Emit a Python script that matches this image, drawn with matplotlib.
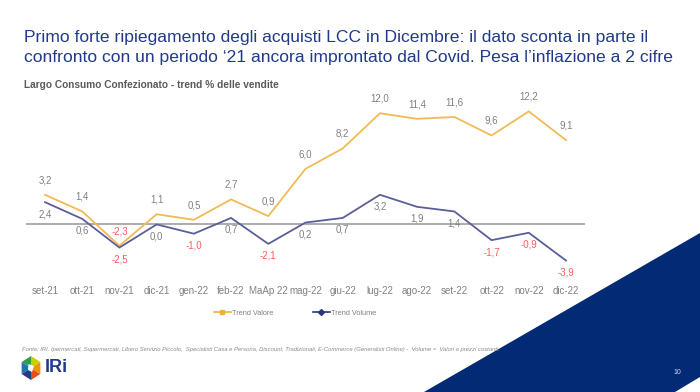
import matplotlib.pyplot as plt
import numpy as np
from matplotlib.patches import Polygon
from matplotlib.lines import Line2D

plt.rcParams['font.family'] = ['Liberation Sans', 'DejaVu Sans']

# Dati
mesi = ['set-21', 'ott-21', 'nov-21', 'dic-21', 'gen-22', 'feb-22', 'MaAp 22',
        'mag-22', 'giu-22', 'lug-22', 'ago-22', 'set-22', 'ott-22', 'nov-22', 'dic-22']
trend_valore = [3.2, 1.4, -2.3, 1.1, 0.5, 2.7, 0.9, 6.0, 8.2, 12.0, 11.4, 11.6, 9.6, 12.2, 9.1]
trend_volume = [2.4, 0.6, -2.5, 0.0, -1.0, 0.7, -2.1, 0.2, 0.7, 3.2, 1.9, 1.4, -1.7, -0.9, -3.9]

W, H = 700, 392
fig = plt.figure(figsize=(7, 3.92), dpi=100)


def fx(x):
    return x / W


def fy(y):
    return 1 - y / H


# Assi del grafico
ax = fig.add_axes([fx(26.4), fy(280), fx(584.6) - fx(26.4), fy(104) - fy(280)])
x = np.arange(len(mesi))
c_val = '#F2BA55'
c_vol = '#5B5F97'
ax.plot(x, trend_valore, color=c_val, lw=1.3)
ax.plot(x, trend_volume, color=c_vol, lw=1.3)
ax.axhline(0, color='#A6A6A6', lw=1.3, zorder=0)

ax.set_xlim(-0.5, len(mesi) - 0.5)
ax.set_ylim(-6, 13)
ax.set_xticks(x)
ax.set_xticklabels(mesi, fontsize=7, color='#808080')
ax.tick_params(axis='x', length=0, pad=4)
ax.set_yticks([])
for sp in ax.spines.values():
    sp.set_visible(False)


def fmt(v):
    return f'{v:.1f}'.replace('.', ',')


for i, v in enumerate(trend_valore):
    ax.annotate(fmt(v), (i, v), xytext=(0, 7), textcoords='offset points',
                ha='center', va='bottom', fontsize=7,
                color='#FF5B5B' if v < 0 else '#808080')
for i, v in enumerate(trend_volume):
    ax.annotate(fmt(v), (i, v), xytext=(0, -5), textcoords='offset points',
                ha='center', va='top', fontsize=7,
                color='#FF5B5B' if v < 0 else '#808080')

# Legenda
h1 = Line2D([], [], color='#F0B040', lw=1.2, marker='s', markersize=3)
h2 = Line2D([], [], color='#2A3578', lw=1.2, marker='D', markersize=3)
fig.legend([h1, h2], ['Trend Valore', 'Trend Volume'], loc='center',
           bbox_to_anchor=(fx(295), fy(313)), ncol=2, frameon=False,
           fontsize=5.3, labelcolor='#808080', handlelength=2.3,
           handletextpad=0.15, columnspacing=5.4)

# Titoli
titolo = ['Primo forte ripiegamento degli acquisti LCC in Dicembre: il dato sconta in parte il',
          'confronto con un periodo \u201821 ancora improntato dal Covid. Pesa l\u2019inflazione a 2 cifre']
for k, riga in enumerate(titolo):
    fig.text(fx(24), fy(41.7 + 20 * k), riga, fontsize=12.6, color='#1F3A8A',
             ha='left', va='baseline')
fig.text(fx(24), fy(85), 'Largo Consumo Confezionato - trend % delle vendite',
         fontsize=7.3, fontweight='bold', color='#5A5A5A', ha='left', va='center')

# Triangolo blu
fig.add_artist(Polygon([(fx(424), fy(392)), (fx(700), fy(233)), (fx(700), fy(392))],
                       closed=True, transform=fig.transFigure, color='#022A75', lw=0))
fig.add_artist(Polygon([(fx(675), fy(392)), (fx(700), fy(377)), (fx(700), fy(392))],
                       closed=True, transform=fig.transFigure, color='white', lw=0))
fig.text(fx(677), fy(372), '10', fontsize=5, color='#D8D8E8', ha='center', va='center', zorder=5)

# Fonte
fig.text(fx(22), fy(350), 'Fonte: IRI. Ipermercati, Supermercati, Libero Servizio Piccolo,  Specialisti Casa e Persona, '
         'Discount, Tradizionali, E-Commerce (Generalisti Online) -  Volume =  Valori a prezzi costanti.',
         fontsize=4.2, style='italic', color='#8A8A8A', ha='left', va='center', zorder=5)

# Logo IRi
cx, cy, r = 31, 368, 12
ang = np.deg2rad(90 + 60 * np.arange(7))
vx = cx + r * 0.9 * np.cos(ang)
vy = cy - r * np.sin(ang)
cols = ['#2E9E4F', '#1B75BB', '#1F3C88', '#E84E1B', '#F39200', '#C5D200']
for k in range(6):
    fig.add_artist(Polygon([(fx(cx), fy(cy)), (fx(vx[k]), fy(vy[k])), (fx(vx[k + 1]), fy(vy[k + 1]))],
                           closed=True, transform=fig.transFigure, color=cols[k], lw=0))
fig.add_artist(Polygon([(fx(cx - 2.5), fy(cy - 4)), (fx(cx + 3), fy(cy - 2)), (fx(cx + 1), fy(cy + 4)),
                        (fx(cx - 3), fy(cy + 2))],
                       closed=True, transform=fig.transFigure, color='white', lw=0))
fig.text(fx(45), fy(368), 'IRi', fontsize=13, fontweight='bold', color='#1F3C88',
         ha='left', va='center')

fig.savefig('out.png', dpi=100)
